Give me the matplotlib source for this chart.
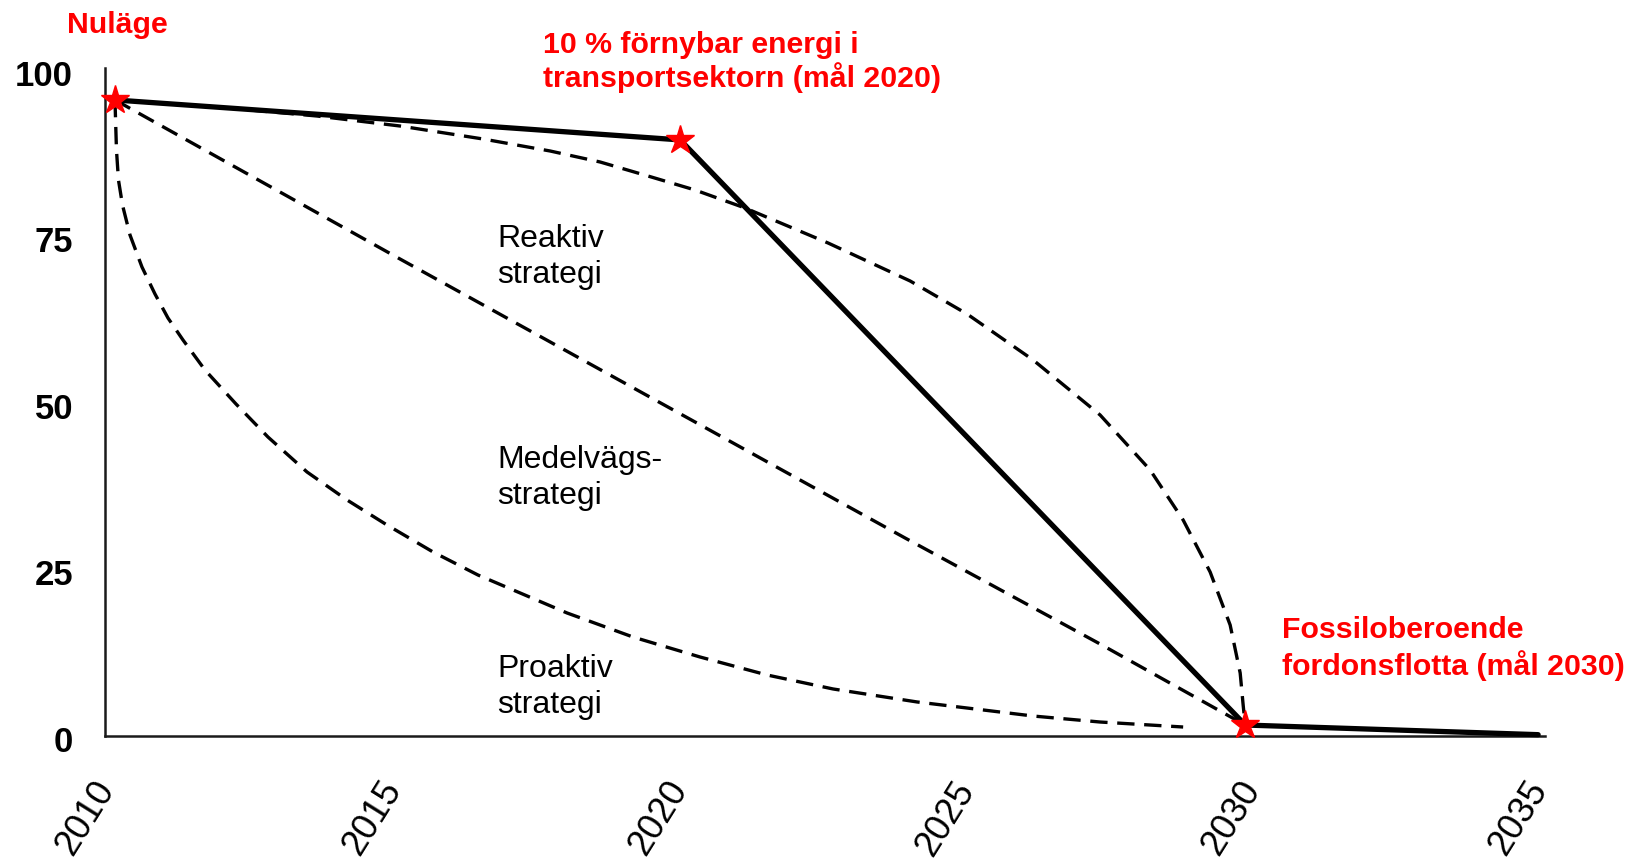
import matplotlib
matplotlib.use("Agg")
import matplotlib.pyplot as plt
from matplotlib.transforms import ScaledTranslation

plt.rcParams['font.family'] = ['Liberation Sans', 'DejaVu Sans']

# ---------------- data ----------------
x_ticks = [2010, 2015, 2020, 2025, 2030, 2035]
x_tick_labels = ["2010", "2015", "2020", "2025", "2030", "2035"]
y_ticks = [0, 25, 50, 75, 100]
y_tick_labels = ["0", "25", "50", "75", "100"]

# main (solid) path
main_x = [2010.09, 2019.95, 2029.81, 2034.92]
main_y = [95.5, 89.5, 1.65, 0.2]

# milestone stars
star_x = [2010.09, 2019.95, 2029.81]
star_y = [95.5, 89.5, 1.65]

# Reaktiv strategi (upper dashed curve)
reaktiv_x = [2010.087, 2011.867, 2013.613, 2015.061, 2016.510, 2017.679, 2018.551,
             2019.389, 2020.209, 2021.082, 2022.531, 2023.962, 2024.956, 2026.108,
             2027.277, 2028.150, 2028.726, 2029.197, 2029.546, 2029.721, 2029.773, 2029.808]
reaktiv_y = [95.50, 94.44, 93.09, 91.59, 89.64, 87.84, 86.19,
             84.08, 81.98, 79.28, 74.02, 68.32, 63.36, 56.46,
             48.20, 39.94, 32.43, 24.62, 16.67, 9.46, 4.65, 1.65]

# Medelvägsstrategi (middle dashed curve)
medel_x = [2010.087, 2015.061, 2019.546, 2023.874, 2027.277, 2029.808]
medel_y = [95.50, 71.62, 50.30, 29.73, 13.81, 1.65]

# Proaktiv strategi (lower dashed curve)
proaktiv_x = [2010.087, 2010.113, 2010.148, 2010.218, 2010.349, 2010.558, 2010.785,
              2011.012, 2011.274, 2011.658, 2012.199, 2012.757, 2013.438, 2014.136,
              2014.834, 2015.637, 2016.422, 2017.976, 2019.127, 2020.297, 2021.466,
              2022.618, 2024.084, 2026.108, 2027.277, 2028.726]
proaktiv_y = [95.50, 88.00, 83.48, 79.73, 75.23, 70.42, 66.37,
              62.76, 59.46, 54.95, 49.85, 44.89, 39.64, 35.44,
              31.68, 27.63, 24.17, 18.47, 14.86, 11.86, 9.16,
              7.06, 5.11, 3.00, 2.10, 1.35]

# ---------------- figure ----------------
W, H = 1631, 865
fig = plt.figure(figsize=(W / 100, H / 100), dpi=100)
fig.patch.set_facecolor("white")

ax_left, ax_right, ax_top, ax_bottom = 105, 1545, 68, 736
ax = fig.add_axes([ax_left / W, 1 - ax_bottom / H,
                   (ax_right - ax_left) / W, (ax_bottom - ax_top) / H])
ax.set_xlim(2009.913, 2035.04)
ax.set_ylim(0, 100.3)

for s in ("top", "right"):
    ax.spines[s].set_visible(False)
for s in ("left", "bottom"):
    ax.spines[s].set_color("#1a1a1a")
    ax.spines[s].set_linewidth(1.8)

dash = (0, (5.2, 2.9))
ax.plot(reaktiv_x, reaktiv_y, color="black", lw=2.4, linestyle=dash, zorder=3, clip_on=False)
ax.plot(medel_x, medel_y, color="black", lw=2.4, linestyle=dash, zorder=3, clip_on=False)
ax.plot(proaktiv_x, proaktiv_y, color="black", lw=2.4, linestyle=dash, zorder=3, clip_on=False)
ax.plot(main_x, main_y, color="black", lw=3.8, solid_capstyle="round",
        solid_joinstyle="round", zorder=4, clip_on=False)
ax.plot(star_x, star_y, linestyle="none", marker="*", ms=21, color="#ff0000",
        markeredgecolor="#ff0000", zorder=6, clip_on=False)

ax.set_xticks(x_ticks)
ax.set_xticklabels(x_tick_labels, rotation=58, ha="right", va="top",
                   rotation_mode="anchor", fontsize=26)
ax.set_yticks(y_ticks)
ax.set_yticklabels(y_tick_labels, fontsize=25, fontweight="bold")
ax.tick_params(axis="x", length=0, pad=28)
ax.tick_params(axis="y", length=0, pad=23)
offx = ScaledTranslation(-18 / 100, 0, fig.dpi_scale_trans)
for lab in ax.get_xticklabels():
    lab.set_transform(lab.get_transform() + offx)
offy = ScaledTranslation(0, -3 / 100, fig.dpi_scale_trans)
for lab in ax.get_yticklabels():
    lab.set_transform(lab.get_transform() + offy)

def fp(x, y):
    return x / W, 1 - y / H

red_kw = dict(color="#ff0000", fontsize=21.8, fontweight="bold", ha="left", va="baseline")
fig.text(*fp(67, 33), "Nuläge", **red_kw)
fig.text(*fp(543, 53), "10 % förnybar energi i", **red_kw)
fig.text(*fp(543, 87), "transportsektorn (mål 2020)", **red_kw)
fig.text(*fp(1282, 638), "Fossiloberoende", **red_kw)
fig.text(*fp(1282, 675), "fordonsflotta (mål 2030)", **red_kw)

blk_kw = dict(color="black", fontsize=23, ha="left", va="baseline")
fig.text(*fp(497, 247), "Reaktiv", **blk_kw)
fig.text(*fp(497, 283), "strategi", **blk_kw)
fig.text(*fp(497, 468), "Medelvägs-", **blk_kw)
fig.text(*fp(497, 504), "strategi", **blk_kw)
fig.text(*fp(497, 677), "Proaktiv", **blk_kw)
fig.text(*fp(497, 713), "strategi", **blk_kw)

fig.savefig("out.png", dpi=100, facecolor="white")
